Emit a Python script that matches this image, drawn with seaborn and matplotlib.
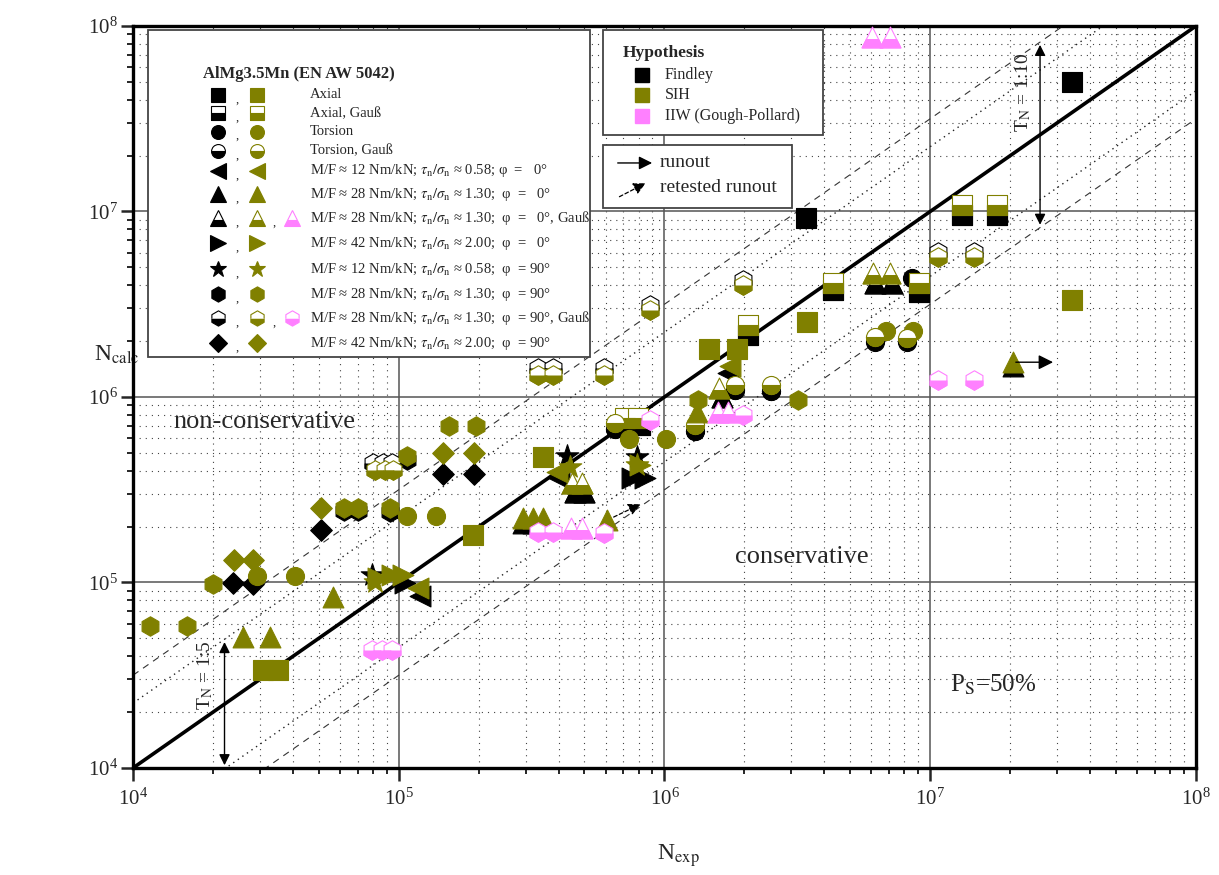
import numpy as np
import pandas as pd
import seaborn as sns
import matplotlib.pyplot as plt
from matplotlib.markers import MarkerStyle
from matplotlib.patches import Rectangle

# shape codes: s = axial, o = torsion, < ^ > * h D = multiaxial cases, trailing g = Gauss (half filled)
findley_shape = (['s'] * 2 + ['sg'] * 7 + ['o'] * 3 + ['og'] * 4 + ['<'] * 3 + ['^'] * 4
                 + ['^g'] * 5 + ['>'] * 3 + ['*'] * 3 + ['h'] * 4 + ['hg'] * 10 + ['D'] * 5)
findley_exp = [3.41e6, 3.42e7,
               7.29e5, 8.09e5, 2.06e6, 4.31e6, 9.07e6, 1.32e7, 1.78e7,
               8.54e6, 6.20e6, 8.17e6,
               6.51e5, 1.30e6, 1.84e6, 2.52e6,
               1.20e5, 1.73e6, 4.01e5,
               2.93e5, 3.20e5, 3.49e5, 2.05e7,
               4.61e5, 4.98e5, 1.65e6, 6.20e6, 7.18e6,
               1.06e5, 7.55e5, 8.45e5,
               7.93e4, 4.30e5, 7.88e5,
               1.07e5, 9.27e4, 6.22e4, 7.03e4,
               8.0e4, 8.72e4, 9.43e4, 3.34e5, 3.81e5, 5.92e5, 8.82e5, 1.97e6, 1.07e7, 1.46e7,
               2.38e4, 2.83e4, 5.10e4, 1.47e5, 1.92e5]
findley_calc = [9.23e6, 4.99e7,
                7.06e5, 7.06e5, 2.16e6, 3.77e6, 3.68e6, 9.57e6, 9.57e6,
                4.38e6, 1.98e6, 1.98e6,
                6.72e5, 6.56e5, 1.09e6, 1.08e6,
                8.45e4, 1.35e6, 3.66e5,
                2.09e5, 2.09e5, 2.09e5, 1.47e6,
                3.07e5, 3.07e5, 1.0e6, 4.12e6, 4.12e6,
                9.94e4, 3.66e5, 3.66e5,
                1.10e5, 4.81e5, 4.75e5,
                4.58e5, 2.40e5, 2.43e5, 2.43e5,
                4.41e5, 4.41e5, 4.41e5, 1.43e6, 1.43e6, 1.43e6, 3.13e6, 4.27e6, 6.05e6, 6.05e6,
                9.94e4, 9.81e4, 1.92e5, 3.85e5, 3.85e5]

sih_shape = (['s'] * 8 + ['sg'] * 7 + ['o'] * 8 + ['og'] * 6 + ['<'] * 3 + ['^'] * 9
             + ['^g'] * 5 + ['>'] * 4 + ['*'] * 3 + ['h'] * 11 + ['hg'] * 10 + ['D'] * 5)
sih_exp = [3.08e4, 3.51e4, 1.90e5, 3.49e5, 1.47e6, 1.87e6, 3.44e6, 3.42e7,
           7.10e5, 7.95e5, 2.06e6, 4.31e6, 9.07e6, 1.32e7, 1.78e7,
           2.93e4, 4.07e4, 1.07e5, 1.38e5, 7.35e5, 1.01e6, 6.82e6, 8.61e6,
           6.51e5, 1.30e6, 1.84e6, 2.52e6, 6.20e6, 8.17e6,
           1.18e5, 3.94e5, 1.76e6,
           2.59e4, 3.28e4, 5.66e4, 2.93e5, 3.20e5, 3.49e5, 6.08e5, 1.33e6, 2.05e7,
           4.49e5, 4.89e5, 1.60e6, 6.09e6, 7.06e6,
           8.35e4, 9.43e4, 1.04e5, 8.09e5,
           8.14e4, 4.41e5, 7.88e5,
           1.16e4, 1.60e4, 2.0e4, 6.22e4, 7.03e4, 9.27e4, 1.07e5, 1.55e5, 1.95e5, 1.34e6, 3.18e6,
           8.14e4, 8.88e4, 9.51e4, 3.34e5, 3.81e5, 5.92e5, 8.82e5, 1.97e6, 1.07e7, 1.46e7,
           2.40e4, 2.83e4, 5.10e4, 1.47e5, 1.92e5]
sih_calc = [3.38e4, 3.38e4, 1.80e5, 4.75e5, 1.81e6, 1.81e6, 2.54e6, 3.33e6,
            7.70e5, 7.70e5, 2.44e6, 4.12e6, 4.12e6, 1.08e7, 1.08e7,
            1.08e5, 1.08e5, 2.28e5, 2.28e5, 5.94e5, 5.94e5, 2.27e6, 2.27e6,
            7.24e5, 7.06e5, 1.16e6, 1.16e6, 2.11e6, 2.08e6,
            9.34e4, 3.94e5, 1.47e6,
            5.08e4, 5.08e4, 8.35e4, 2.23e5, 2.23e5, 2.23e5, 2.17e5, 8.30e5, 1.54e6,
            3.44e5, 3.44e5, 1.12e6, 4.66e6, 4.66e6,
            1.06e5, 1.10e5, 1.10e5, 4.30e5,
            1.01e5, 4.19e5, 4.30e5,
            5.83e4, 5.83e4, 9.81e4, 2.52e5, 2.52e5, 2.52e5, 4.81e5, 6.98e5, 6.98e5, 9.63e5, 9.63e5,
            4.04e5, 4.04e5, 4.04e5, 1.31e6, 1.31e6, 1.31e6, 2.94e6, 4.02e6, 5.68e6, 5.68e6,
            1.32e5, 1.32e5, 2.52e5, 4.99e5, 4.99e5]

iiw_shape = ['^g'] * 6 + ['hg'] * 10
iiw_exp = [6.04e6, 7.06e6, 4.45e5, 4.89e5, 1.59e6, 1.73e6,
           7.93e4, 8.65e4, 9.43e4, 3.34e5, 3.81e5, 5.92e5, 8.82e5, 1.97e6, 1.07e7, 1.46e7]
iiw_calc = [8.72e7, 8.72e7, 1.97e5, 1.97e5, 8.30e5, 8.30e5,
            4.33e4, 4.33e4, 4.33e4, 1.87e5, 1.87e5, 1.85e5, 7.52e5, 8.0e5, 1.23e6, 1.23e6]

# runout arrows (start, end) in N_exp / N_calc
runout = [(2.05e7, 1.54e6), (2.97e7, 1.54e6)]
retested = [(6.3e5, 2.22e5), (8.3e5, 2.68e5)]

hypotheses = ['Findley', 'SIH', 'IIW (Gough-Pollard)']
hyp_colors = ['black', '#808000', '#ff80ff']

legend_title = 'AlMg3.5Mn (EN AW 5042)'
legend_keys = ['s', 'sg', 'o', 'og', '<', '^', '^g', '>', '*', 'h', 'hg', 'D']
legend_pink = [False] * 6 + [True] + [False] * 3 + [True] + [False]
legend_labels = [
    'Axial',
    'Axial, Gauß',
    'Torsion',
    'Torsion, Gauß',
    r'M/F ≈ 12 Nm/kN; $\tau_\mathrm{n}/\sigma_\mathrm{n}$ ≈ 0.58; φ  =   0°',
    r'M/F ≈ 28 Nm/kN; $\tau_\mathrm{n}/\sigma_\mathrm{n}$ ≈ 1.30;  φ  =   0°',
    r'M/F ≈ 28 Nm/kN; $\tau_\mathrm{n}/\sigma_\mathrm{n}$ ≈ 1.30;  φ  =   0°, Gauß',
    r'M/F ≈ 42 Nm/kN; $\tau_\mathrm{n}/\sigma_\mathrm{n}$ ≈ 2.00;  φ  =   0°',
    r'M/F ≈ 12 Nm/kN; $\tau_\mathrm{n}/\sigma_\mathrm{n}$ ≈ 0.58;  φ  = 90°',
    r'M/F ≈ 28 Nm/kN; $\tau_\mathrm{n}/\sigma_\mathrm{n}$ ≈ 1.30;  φ  = 90°',
    r'M/F ≈ 28 Nm/kN; $\tau_\mathrm{n}/\sigma_\mathrm{n}$ ≈ 1.30;  φ  = 90°, Gauß',
    r'M/F ≈ 42 Nm/kN; $\tau_\mathrm{n}/\sigma_\mathrm{n}$ ≈ 2.00;  φ  = 90°',
]

# marker sizes (points) for plot and legend
SIZE = {'s': 14, 'o': 13, '<': 15, '^': 15, '>': 15, '*': 17, 'h': 14, 'D': 11}
LEG_SIZE = {'s': 10, 'o': 10, '<': 12, '^': 12, '>': 12, '*': 12, 'h': 11, 'D': 9}

df = pd.concat([
    pd.DataFrame({'n_exp': findley_exp, 'n_calc': findley_calc, 'shape': findley_shape, 'hyp': hypotheses[0]}),
    pd.DataFrame({'n_exp': sih_exp, 'n_calc': sih_calc, 'shape': sih_shape, 'hyp': hypotheses[1]}),
    pd.DataFrame({'n_exp': iiw_exp, 'n_calc': iiw_calc, 'shape': iiw_shape, 'hyp': hypotheses[2]}),
], ignore_index=True)

sns.set_style('ticks')
plt.rcParams['font.family'] = ['Liberation Serif', 'DejaVu Serif']
plt.rcParams['mathtext.fontset'] = 'stix'

fig = plt.figure(figsize=(12.19, 8.75), dpi=100)
ax = fig.add_axes([0.1091, 0.1223, 0.8720, 0.8480])
ax.set_xscale('log')
ax.set_yscale('log')


def draw_points(ax, data, color, z):
    for code, grp in data.groupby('shape', sort=False):
        m = code.rstrip('g')
        s = SIZE[m] ** 2
        if code.endswith('g'):
            sns.scatterplot(data=grp, x='n_exp', y='n_calc', marker=m, s=s, color='white',
                            edgecolor=color, linewidth=0.8, ax=ax, zorder=z, legend=False)
            sns.scatterplot(data=grp, x='n_exp', y='n_calc', marker=MarkerStyle(m, fillstyle='bottom'),
                            s=s, color=color, edgecolor=color, linewidth=0.8, ax=ax, zorder=z, legend=False)
        else:
            sns.scatterplot(data=grp, x='n_exp', y='n_calc', marker=m, s=s, color=color,
                            edgecolor=color, linewidth=0.8, ax=ax, zorder=z, legend=False)


# 1:1 line and scatter bands
line_x = np.array([1e4, 1e8])
ax.plot(line_x, line_x, color='black', lw=2.6, zorder=2)
for k in (np.sqrt(10), 1 / np.sqrt(10)):
    ax.plot(line_x, line_x * k, color='#333333', lw=0.8, ls=(0, (6, 5)), zorder=2)
for k in (np.sqrt(5), 1 / np.sqrt(5)):
    ax.plot(line_x, line_x * k, color='#222222', lw=1.0, ls=(0, (1, 3)), zorder=2)

for i, (h, c) in enumerate(zip(hypotheses, hyp_colors)):
    draw_points(ax, df[df['hyp'] == h], c, 3 + i)

# runout arrows
ax.annotate('', xy=runout[1], xytext=runout[0],
            arrowprops=dict(arrowstyle='-|>', color='black', lw=1.0, mutation_scale=22), zorder=6)
ax.annotate('', xy=retested[1], xytext=retested[0],
            arrowprops=dict(arrowstyle='-|>', color='black', lw=0.9, ls=(0, (3, 2)), mutation_scale=18), zorder=6)

# scatter band arrows
x10, x5 = 2.59e7, 2.21e4
ax.annotate('', xy=(x10, x10 * np.sqrt(10)), xytext=(x10, x10 / np.sqrt(10)),
            arrowprops=dict(arrowstyle='<|-|>', color='black', lw=1.0, mutation_scale=16), zorder=6)
ax.annotate('', xy=(x5, x5 * np.sqrt(5)), xytext=(x5, 1.0e4),
            arrowprops=dict(arrowstyle='<|-|>', color='black', lw=1.0, mutation_scale=16), zorder=6)
ax.text(0.837, 0.911, r'T$_\mathrm{N}$ = 1:10', transform=ax.transAxes, rotation=90,
        ha='center', va='center', fontsize=14)
ax.text(0.0677, 0.1253, r'T$_\mathrm{N}$ = 1:5', transform=ax.transAxes, rotation=90,
        ha='center', va='center', fontsize=14)

ax.text(0.0376, 0.466, 'non-conservative', transform=ax.transAxes, ha='left', va='center', fontsize=19)
ax.text(0.5663, 0.2844, 'conservative', transform=ax.transAxes, ha='left', va='center', fontsize=19)
ax.text(0.7686, 0.1119, r'P$_\mathrm{S}$=50%', transform=ax.transAxes, ha='left', va='center', fontsize=18)

# axes styling
ax.set_xlim(1e4, 1e8)
ax.set_ylim(1e4, 1e8)
ax.set_axisbelow(True)
ax.grid(True, which='major', color='#555555', lw=1.1)
ax.grid(True, which='minor', color='#444444', lw=0.8, ls=(0, (1, 4.5)))
for sp in ax.spines.values():
    sp.set_linewidth(2.4)
    sp.set_color('black')
ax.tick_params(axis='x', which='major', direction='out', length=9, width=1.8, labelsize=15, pad=6)
ax.tick_params(axis='x', which='minor', direction='out', length=4, width=1.4)
ax.tick_params(axis='y', which='major', direction='out', length=9, width=1.8, labelsize=15, pad=2)
ax.tick_params(axis='y', which='minor', direction='out', length=4.5, width=1.4)

ax.set_xlabel(r'N$_\mathrm{exp}$', fontsize=17, va='center')
ax.xaxis.set_label_coords(0.5127, -0.118)
ax.set_ylabel(r'N$_\mathrm{calc}$', fontsize=17, rotation=0, ha='center', va='center')
ax.yaxis.set_label_coords(-0.015, 0.5566)

# legend 1: specimen / load case
ax.add_patch(Rectangle((0.0141, 0.554), 0.4159, 0.4406, transform=ax.transAxes,
                       facecolor='white', edgecolor='#444444', lw=1.3, zorder=8))
ax.text(0.0659, 0.9353, legend_title, transform=ax.transAxes, fontsize=12, fontweight='bold',
        ha='left', va='center', zorder=9)
row_y = [0.9070, 0.8824, 0.8576, 0.8315, 0.8046, 0.7732, 0.7408, 0.7071,
         0.6721, 0.6384, 0.6060, 0.5724]
col_x = [0.0800, 0.1167, 0.1496]
for key, pink, label, y in zip(legend_keys, legend_pink, legend_labels, row_y):
    m = key.rstrip('g')
    cols = hyp_colors if pink else hyp_colors[:2]
    for j, c in enumerate(cols):
        if key.endswith('g'):
            ax.plot(col_x[j], y, marker=m, ms=LEG_SIZE[m], color=c, mec=c, mew=0.8,
                    fillstyle='bottom', markerfacecoloralt='white', transform=ax.transAxes, zorder=9)
        else:
            ax.plot(col_x[j], y, marker=m, ms=LEG_SIZE[m], color=c, mec=c, mew=0.8,
                    transform=ax.transAxes, zorder=9)
        if j < len(cols) - 1:
            ax.text((col_x[j] + col_x[j + 1]) / 2 - 0.0005, y - 0.006, ',', transform=ax.transAxes,
                    fontsize=9, ha='center', va='center', zorder=9)
    ax.text(0.1665, y, label, transform=ax.transAxes, fontsize=10.5, ha='left', va='center', zorder=9)

# legend 2: hypothesis
ax.add_patch(Rectangle((0.4421, 0.853), 0.207, 0.1416, transform=ax.transAxes,
                       facecolor='white', edgecolor='#444444', lw=1.3, zorder=8))
ax.text(0.461, 0.9636, 'Hypothesis', transform=ax.transAxes, fontsize=12.5, fontweight='bold',
        ha='left', va='center', zorder=9)
for h, c, y in zip(hypotheses, hyp_colors, [0.934, 0.907, 0.8787]):
    ax.plot(0.4788, y, marker='s', ms=10, color=c, mec=c, transform=ax.transAxes, zorder=9)
    ax.text(0.5005, y, h, transform=ax.transAxes, fontsize=11.5, ha='left', va='center', zorder=9)

# legend 3: runouts
ax.add_patch(Rectangle((0.4421, 0.7547), 0.1779, 0.0849, transform=ax.transAxes,
                       facecolor='white', edgecolor='#444444', lw=1.3, zorder=8))
ax.annotate('', xy=(0.491, 0.8154), xytext=(0.4534, 0.8154), xycoords='axes fraction',
            arrowprops=dict(arrowstyle='-|>', color='black', lw=1.0, mutation_scale=20), zorder=9)
ax.annotate('', xy=(0.4845, 0.7898), xytext=(0.4553, 0.7682), xycoords='axes fraction',
            arrowprops=dict(arrowstyle='-|>', color='black', lw=0.9, ls=(0, (3, 2)), mutation_scale=18), zorder=9)
ax.text(0.4958, 0.8154, 'runout', transform=ax.transAxes, fontsize=14, ha='left', va='center', zorder=9)
ax.text(0.4958, 0.7817, 'retested runout', transform=ax.transAxes, fontsize=14, ha='left', va='center', zorder=9)

fig.savefig('out.png', dpi=100)
